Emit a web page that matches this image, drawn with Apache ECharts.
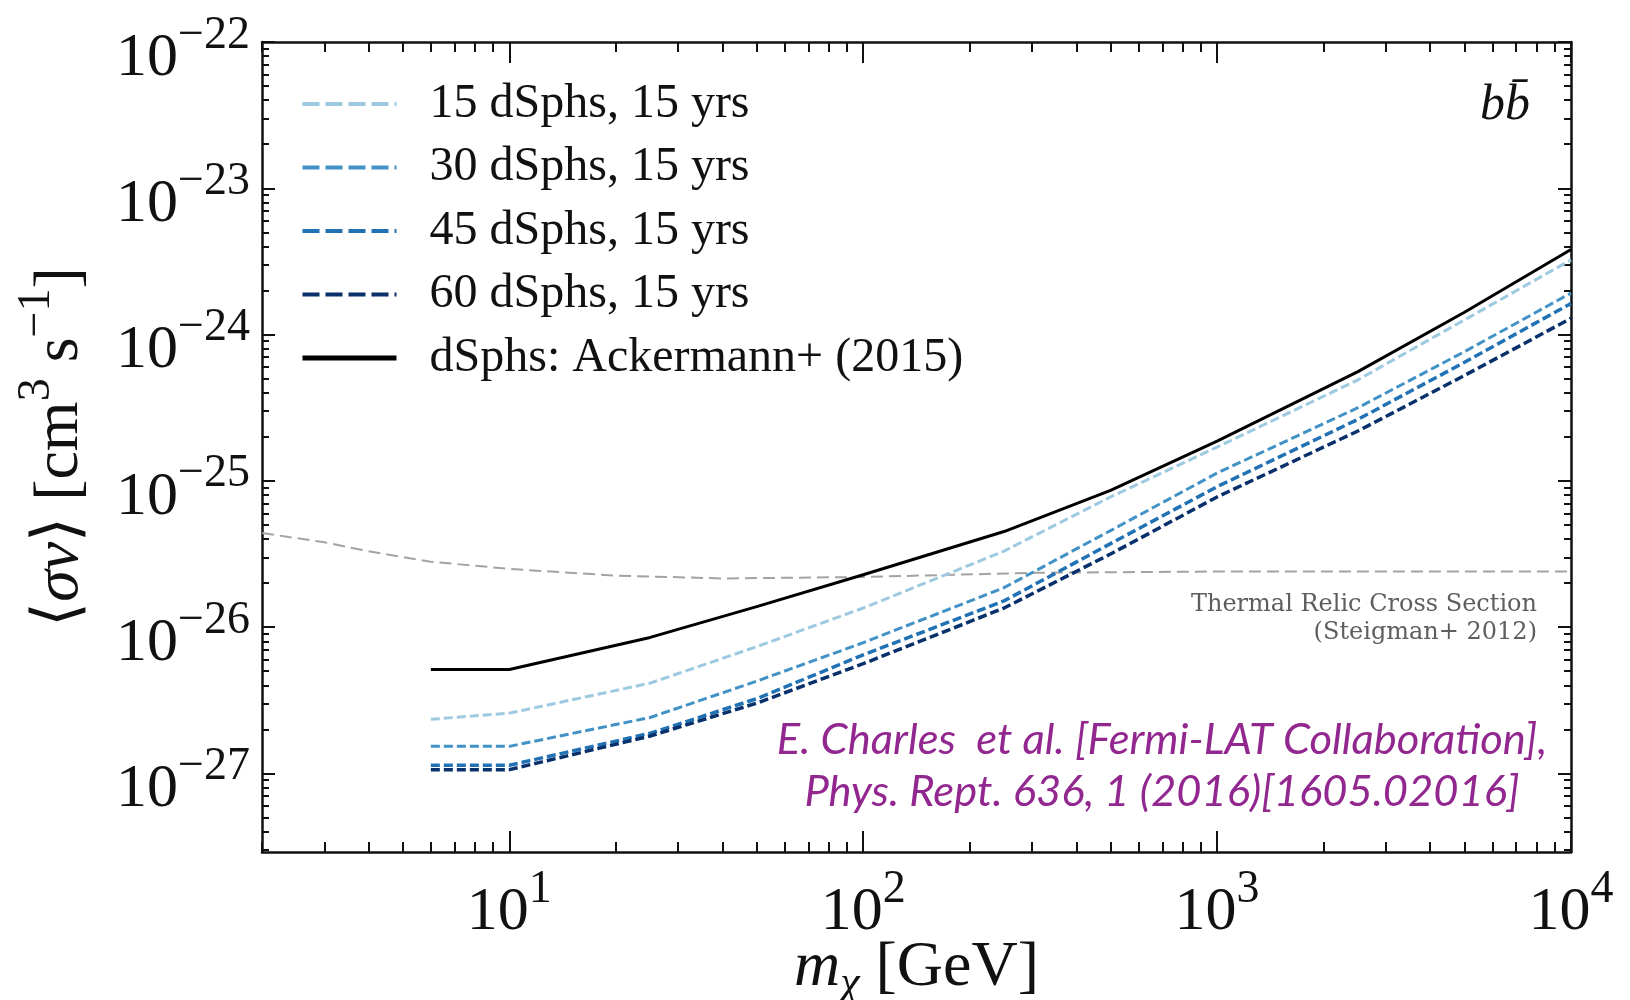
<!DOCTYPE html>
<html><head><meta charset="utf-8">
<script src="https://cdn.jsdelivr.net/npm/echarts@6/dist/echarts.min.js"></script>
<style>html,body{margin:0;padding:0;background:#fff}#c{width:1630px;height:1000px}</style>
</head><body><div id="c"></div>
<script>
// ---- data ----
const massGeV = [6, 10, 25, 50, 100, 250, 500, 1000, 2500, 5000, 10000];
const sv15 = [2.34e-27, 2.58e-27, 4.14e-27, 7.35e-27, 1.35e-26, 3.31e-26, 7.76e-26, 1.70e-25, 4.90e-25, 1.26e-24, 3.24e-24];
const sv30 = [1.53e-27, 1.53e-27, 2.41e-27, 4.27e-27, 7.82e-27, 1.86e-26, 4.57e-26, 1.13e-25, 3.16e-25, 7.64e-25, 1.92e-24];
const sv45 = [1.135e-27, 1.135e-27, 1.88e-27, 3.24e-27, 6.46e-27, 1.51e-26, 3.72e-26, 9.12e-26, 2.63e-25, 6.46e-25, 1.63e-24];
const sv60 = [1.06e-27, 1.06e-27, 1.80e-27, 3.02e-27, 5.62e-27, 1.35e-26, 3.16e-26, 7.76e-26, 2.19e-25, 5.25e-25, 1.29e-24];
const svAckermann = [5.13e-27, 5.13e-27, 8.5e-27, 1.38e-26, 2.28e-26, 4.5e-26, 8.6e-26, 1.87e-25, 5.58e-25, 1.42e-24, 3.81e-24];
const relicMass = [2, 3, 4, 6, 10, 20, 40, 100, 300, 1000, 10000];
const relicSv = [4.4e-26, 3.8e-26, 3.3e-26, 2.8e-26, 2.5e-26, 2.25e-26, 2.15e-26, 2.2e-26, 2.35e-26, 2.4e-26, 2.4e-26];
const xTickExponents = [1, 2, 3, 4];
const yTickExponents = [-27, -26, -25, -24, -23, -22];
const seriesNames = ['15 dSphs, 15 yrs', '30 dSphs, 15 yrs', '45 dSphs, 15 yrs', '60 dSphs, 15 yrs', 'dSphs: Ackermann+ (2015)'];
const X_MIN = 2, X_MAX = 1e4, Y_MIN = 2.9e-28, Y_MAX = 1e-22;

// ---- helpers ----
const lx0 = Math.log10(X_MIN), lx1 = Math.log10(X_MAX);
const ly0 = Math.log10(Y_MIN), ly1 = Math.log10(Y_MAX);
function pairs(xs, ys) { return xs.map((m, i) => [Math.log10(m), Math.log10(ys[i])]); }
function minors(lo, hi) {
  const out = [];
  for (let d = Math.floor(lo) - 1; d <= Math.ceil(hi); d++) {
    for (let k = 2; k <= 9; k++) {
      const v = d + Math.log10(k);
      if (v >= lo - 1e-9 && v <= hi + 1e-9) out.push(v);
    }
  }
  return out;
}
const xMinor = minors(lx0, lx1), yMinor = minors(ly0, ly1);
const SERIF = 'Liberation Serif';
const INK = '#111';
function expLabel(v) {
  const e = Math.round(v);
  return '{b|10}{s|' + (e < 0 ? '\u2212' + (-e) : e) + '}';
}
const labelRich = {
  b: { fontFamily: SERIF, fontSize: 62, color: INK, padding: [15, 0, 0, 0], verticalAlign: 'bottom' },
  s: { fontFamily: SERIF, fontSize: 46, color: INK, verticalAlign: 'top' }
};
const axisLineStyle = { color: INK, width: 2.5 };

function xAxisDef(position, major, showLine, showLabel) {
  return {
    type: 'value', position: position, min: lx0, max: lx1,
    axisLine: { show: showLine, onZero: false, lineStyle: axisLineStyle },
    axisTick: { show: true, inside: true, length: major ? 21 : 10, customValues: major ? xTickExponents : xMinor,
                lineStyle: { color: INK, width: 2 } },
    axisLabel: showLabel ? { show: true, customValues: xTickExponents, formatter: expLabel, rich: labelRich, margin: 15 } : { show: false },
    splitLine: { show: false }
  };
}
function yAxisDef(position, major, showLine, showLabel) {
  return {
    type: 'value', position: position, min: ly0, max: ly1,
    axisLine: { show: showLine, onZero: false, lineStyle: axisLineStyle },
    axisTick: { show: true, inside: true, length: major ? 13 : 7, customValues: major ? yTickExponents : yMinor,
                lineStyle: { color: INK, width: 2 } },
    axisLabel: showLabel ? { show: true, customValues: yTickExponents, formatter: expLabel, rich: labelRich, margin: 12, padding: [18, 0, 0, 0] } : { show: false },
    splitLine: { show: false }
  };
}

const xAxes = [xAxisDef('bottom', true, true, true), xAxisDef('bottom', false, false, false),
               xAxisDef('top', true, true, false), xAxisDef('top', false, false, false)];
xAxes[0].name = '{it|m}{sub|\u03c7}{rm| [GeV]}';
xAxes[0].nameLocation = 'middle';
xAxes[0].nameGap = 84;
xAxes[0].nameMoveOverlap = false;
xAxes[0].nameTextStyle = { rich: {
  it: { fontFamily: SERIF, fontStyle: 'italic', fontSize: 64, color: INK, verticalAlign: 'top' },
  sub: { fontFamily: SERIF, fontStyle: 'italic', fontSize: 44, color: INK, padding: [26, 0, 0, 0], verticalAlign: 'top' },
  rm: { fontFamily: SERIF, fontSize: 64, color: INK, verticalAlign: 'top' }
} };
const yAxes = [yAxisDef('left', true, true, true), yAxisDef('left', false, false, false),
               yAxisDef('right', true, true, false), yAxisDef('right', false, false, false)];
yAxes[0].name = '{rm|\u27e8}{it|\u03c3v}{rm|\u27e9 [cm}{s|3}{rm| s}{s|\u22121}{rm|]}';
yAxes[0].nameLocation = 'middle';
yAxes[0].nameRotate = 90;
yAxes[0].nameGap = 170;
yAxes[0].nameMoveOverlap = false;
yAxes[0].nameTextStyle = { rich: {
  rm: { fontFamily: SERIF, fontSize: 64, color: INK, padding: [14, 0, 0, 0], verticalAlign: 'bottom' },
  it: { fontFamily: SERIF, fontStyle: 'italic', fontSize: 64, color: INK, padding: [14, 0, 0, 0], verticalAlign: 'bottom' },
  s: { fontFamily: SERIF, fontSize: 46, color: INK, verticalAlign: 'top' }
} };

const colors = ['#9ecae1', '#4292c6', '#2171b5', '#08306b', '#000000'];
const widths = [3, 3, 3.5, 3.5, 3];
const dataSets = [sv15, sv30, sv45, sv60, svAckermann];

const series = [{
  name: 'relic', type: 'line', xAxisIndex: 0, yAxisIndex: 0, symbol: 'none', silent: true,
  data: pairs(relicMass, relicSv), lineStyle: { color: '#a3a3a3', width: 2, type: [12, 6] }, z: 1
}];
dataSets.forEach((d, i) => {
  series.push({
    name: seriesNames[i], type: 'line', xAxisIndex: 0, yAxisIndex: 0, symbol: 'none', showSymbol: false,
    data: pairs(massGeV, d), z: 2 + i,
    itemStyle: { color: colors[i] },
    lineStyle: { color: colors[i], width: widths[i], type: i < 4 ? [9, 4] : 'solid' }
  });
});

const chart = echarts.init(document.getElementById('c'));
chart.setOption({
  animation: false,
  backgroundColor: '#fff',
  grid: { left: 262, right: 59, top: 42, bottom: 148, containLabel: false, outerBoundsMode: 'none' },
  xAxis: xAxes,
  yAxis: yAxes,
  legend: {
    data: seriesNames.map((n, i) => ({ name: n, lineStyle: { type: i < 4 ? [17, 6] : 'solid', width: i < 4 ? 4 : 5 } })),
    orient: 'vertical', left: 295, top: 75, itemWidth: 94, itemHeight: 14, itemGap: 15.5,
    itemStyle: { color: 'rgba(0,0,0,0)', borderWidth: 0, opacity: 0 },
    textStyle: { fontFamily: SERIF, fontSize: 48, color: INK, lineHeight: 44, padding: [0, 0, 0, 28] },
    selectedMode: false
  },
  series: series,
  graphic: [
    { type: 'text', x: 1530, y: 106, style: { text: 'b\u0062\u0304', font: 'italic 50px "Liberation Serif"', fill: INK, align: 'right', verticalAlign: 'middle' } },
    { type: 'text', x: 1537, y: 605, style: { text: 'Thermal Relic Cross Section', font: '24px "DejaVu Serif"', fill: '#5e5e5e', align: 'right', verticalAlign: 'middle' } },
    { type: 'text', x: 1537, y: 633, style: { text: '(Steigman+ 2012)', font: '24px "DejaVu Serif"', fill: '#5e5e5e', align: 'right', verticalAlign: 'middle' } },
    { type: 'text', x: 1162, y: 740, style: { text: 'E. Charles  et al. [Fermi-LAT Collaboration],', font: 'italic 43.5px Lato', fill: '#92278f', align: 'center', verticalAlign: 'middle' } },
    { type: 'text', x: 1162, y: 792, style: { text: 'Phys. Rept. 636, 1 (2016)[1605.02016]', font: 'italic 43.5px Lato', fill: '#92278f', align: 'center', verticalAlign: 'middle' } }
  ]
});
</script></body></html>
